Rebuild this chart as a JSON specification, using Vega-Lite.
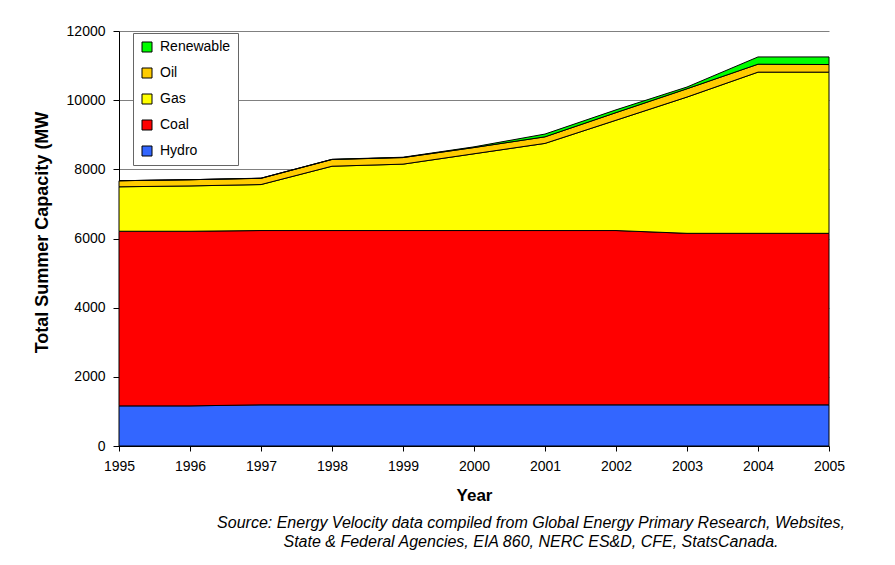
{
  "$schema": "https://vega.github.io/schema/vega-lite/v6.json",
  "width": 710,
  "height": 415,
  "autosize": {"type": "none"},
  "padding": {"left": 119, "top": 31, "right": 66, "bottom": 119},
  "background": "white",
  "config": {
    "font": "Liberation Sans",
    "view": {"stroke": null},
    "axis": {"labelFont": "Liberation Sans", "titleFont": "Liberation Sans", "labelColor": "#000", "titleColor": "#000", "domainColor": "#000", "tickColor": "#000"}
  },
  "title": {
    "text": ["Source: Energy Velocity data compiled from Global Energy Primary Research, Websites,", "State & Federal Agencies, EIA 860, NERC ES&D, CFE, StatsCanada."],
    "orient": "bottom",
    "anchor": "middle",
    "dx": 57,
    "offset": 12,
    "font": "Liberation Sans",
    "fontSize": 16,
    "fontStyle": "italic",
    "fontWeight": "normal",
    "lineHeight": 19,
    "color": "#000"
  },
  "data": {
    "values": [
      {"year": 1995, "source": "Hydro", "mw": 1160},
      {"year": 1996, "source": "Hydro", "mw": 1160},
      {"year": 1997, "source": "Hydro", "mw": 1190},
      {"year": 1998, "source": "Hydro", "mw": 1190},
      {"year": 1999, "source": "Hydro", "mw": 1190},
      {"year": 2000, "source": "Hydro", "mw": 1190},
      {"year": 2001, "source": "Hydro", "mw": 1190},
      {"year": 2002, "source": "Hydro", "mw": 1190},
      {"year": 2003, "source": "Hydro", "mw": 1190},
      {"year": 2004, "source": "Hydro", "mw": 1190},
      {"year": 2005, "source": "Hydro", "mw": 1190},
      {"year": 1995, "source": "Coal", "mw": 5050},
      {"year": 1996, "source": "Coal", "mw": 5050},
      {"year": 1997, "source": "Coal", "mw": 5040},
      {"year": 1998, "source": "Coal", "mw": 5040},
      {"year": 1999, "source": "Coal", "mw": 5040},
      {"year": 2000, "source": "Coal", "mw": 5040},
      {"year": 2001, "source": "Coal", "mw": 5040},
      {"year": 2002, "source": "Coal", "mw": 5040},
      {"year": 2003, "source": "Coal", "mw": 4960},
      {"year": 2004, "source": "Coal", "mw": 4960},
      {"year": 2005, "source": "Coal", "mw": 4960},
      {"year": 1995, "source": "Gas", "mw": 1285},
      {"year": 1996, "source": "Gas", "mw": 1310},
      {"year": 1997, "source": "Gas", "mw": 1330},
      {"year": 1998, "source": "Gas", "mw": 1860},
      {"year": 1999, "source": "Gas", "mw": 1920},
      {"year": 2000, "source": "Gas", "mw": 2220},
      {"year": 2001, "source": "Gas", "mw": 2520},
      {"year": 2002, "source": "Gas", "mw": 3190},
      {"year": 2003, "source": "Gas", "mw": 3940},
      {"year": 2004, "source": "Gas", "mw": 4660},
      {"year": 2005, "source": "Gas", "mw": 4660},
      {"year": 1995, "source": "Oil", "mw": 175},
      {"year": 1996, "source": "Oil", "mw": 180},
      {"year": 1997, "source": "Oil", "mw": 180},
      {"year": 1998, "source": "Oil", "mw": 195},
      {"year": 1999, "source": "Oil", "mw": 190},
      {"year": 2000, "source": "Oil", "mw": 180},
      {"year": 2001, "source": "Oil", "mw": 190},
      {"year": 2002, "source": "Oil", "mw": 220},
      {"year": 2003, "source": "Oil", "mw": 240},
      {"year": 2004, "source": "Oil", "mw": 230},
      {"year": 2005, "source": "Oil", "mw": 220},
      {"year": 1995, "source": "Renewable", "mw": 0},
      {"year": 1996, "source": "Renewable", "mw": 0},
      {"year": 1997, "source": "Renewable", "mw": 5},
      {"year": 1998, "source": "Renewable", "mw": 5},
      {"year": 1999, "source": "Renewable", "mw": 10},
      {"year": 2000, "source": "Renewable", "mw": 20},
      {"year": 2001, "source": "Renewable", "mw": 80},
      {"year": 2002, "source": "Renewable", "mw": 80},
      {"year": 2003, "source": "Renewable", "mw": 50},
      {"year": 2004, "source": "Renewable", "mw": 210},
      {"year": 2005, "source": "Renewable", "mw": 220}
    ]
  },
  "transform": [
    {"calculate": "indexof(['Hydro','Coal','Gas','Oil','Renewable'], datum.source)", "as": "stackOrder"}
  ],
  "mark": {"type": "area", "stroke": "#000", "strokeWidth": 1, "opacity": 1},
  "encoding": {
    "x": {
      "field": "year",
      "type": "quantitative",
      "scale": {"domain": [1995, 2005], "nice": false, "zero": false},
      "axis": {
        "title": "Year",
        "values": [1995, 1996, 1997, 1998, 1999, 2000, 2001, 2002, 2003, 2004, 2005],
        "format": "d",
        "grid": false,
        "labelFlush": false,
        "labelFontSize": 14,
        "labelPadding": 8,
        "tickSize": 5,
        "titleFontSize": 17,
        "titleFontWeight": "bold",
        "titleX": 355,
        "titleY": 54,
        "titleBaseline": "alphabetic",
        "titleAlign": "center"
      }
    },
    "y": {
      "field": "mw",
      "type": "quantitative",
      "stack": "zero",
      "scale": {"domain": [0, 12000], "nice": false},
      "axis": {
        "title": "Total Summer Capacity (MW",
        "values": [0, 2000, 4000, 6000, 8000, 10000, 12000],
        "format": "d",
        "grid": true,
        "gridColor": "#808080",
        "gridOpacity": 1,
        "labelFontSize": 14,
        "labelPadding": 8,
        "tickSize": 6,
        "titleFontSize": 18,
        "titleFontWeight": "bold",
        "titleX": -77,
        "titleY": 201,
        "titleAlign": "center",
        "titleBaseline": "middle"
      }
    },
    "color": {
      "field": "source",
      "type": "nominal",
      "scale": {
        "domain": ["Renewable", "Oil", "Gas", "Coal", "Hydro"],
        "range": ["#00FF00", "#FFCC00", "#FFFF00", "#FF0000", "#3366FF"]
      },
      "legend": {
        "title": null,
        "orient": "none",
        "legendX": 14,
        "legendY": 2,
        "fillColor": "white",
        "strokeColor": "#666",
        "padding": 7,
        "rowPadding": 12,
        "symbolType": "square",
        "symbolSize": 100,
        "symbolStrokeColor": "#000",
        "symbolStrokeWidth": 1,
        "symbolOpacity": 1,
        "labelFontSize": 14,
        "labelOffset": 6,
        "labelColor": "#000",
        "labelFont": "Liberation Sans"
      }
    },
    "order": {"field": "stackOrder", "type": "quantitative"}
  }
}
